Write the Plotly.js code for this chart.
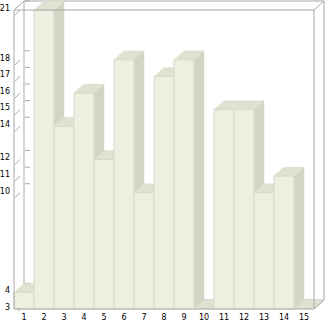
<!DOCTYPE html>
<html>
<head>
<meta charset="utf-8">
<script src="https://cdn.plot.ly/plotly-3.0.1.min.js"></script>
<style>html,body{margin:0;padding:0;background:#fff;}#chart{width:326px;height:321px;}</style>
</head>
<body>
<div id="chart"></div>
<script>
// ---- data ----
const categories = ["1","2","3","4","5","6","7","8","9","10","11","12","13","14","15"];
const values = [4, 21, 14, 16, 12, 18, 10, 17, 18, 3, 15, 15, 10, 11, 3];
const yTickVals = [3, 4, 10, 11, 12, 14, 15, 16, 17, 18, 21];
const yMin = 3;
const yMax = 21;

// ---- style / geometry (pixels -> data units) ----
const W = 326, H = 321;
const pxPerX = 20;                       // pixels per category
const pxPerY = 299 / (yMax - yMin);      // pixels per value unit
const dx = 10 / pxPerX;                  // depth offset in x units
const dy = 9 / pxPerY;                   // depth offset in y units
const margin = {l: 12, r: 0, t: 0, b: 10};
const plotW = W - margin.l - margin.r, plotH = H - margin.t - margin.b;
const x0 = 0.5 - 2 / pxPerX;
const xRange = [x0, x0 + plotW / pxPerX];
const yTop = yMax + 10 / pxPerY;
const yRange = [yTop - plotH / pxPerY, yTop];

const FRONT = '#efefe1', SIDE = '#d4d4c4', TOP = '#e1e1d1', EDGE = '#d9d9ca';
const FRAME = '#a8a8a8';

const traces = [];
function poly(xs, ys, fill, lineColor, lw) {
  traces.push({type: 'scatter', mode: 'lines', x: xs, y: ys, fill: 'toself',
    fillcolor: fill, line: {color: lineColor, width: lw}, hoverinfo: 'skip', showlegend: false});
}
function line(xs, ys, color) {
  traces.push({type: 'scatter', mode: 'lines', x: xs, y: ys,
    line: {color: color, width: 1}, hoverinfo: 'skip', showlegend: false});
}

const n = categories.length;
const L = 0.5, R = n + 0.5;

// back wall frame
line([L + dx, L + dx, R + dx, R + dx, L + dx], [yMin + dy, yMax + dy, yMax + dy, yMin + dy, yMin + dy], FRAME);
// back-wall and side-wall tick marks
const tx = [], ty = [], sx = [], sy = [];
yTickVals.forEach(v => {
  tx.push(L + dx + 0.05, L + dx + 0.3, null); ty.push(v + dy, v + dy, null);
  sx.push(L + 0.05, L + 0.3, null); sy.push(v - 0.3, v, null);
});
line(tx, ty, FRAME);
line(sx, sy, FRAME);

// bars, left to right: side, top, front
values.forEach((v, i) => {
  const c = i + 1, a = c - 0.5, b = c + 0.5;
  poly([b, b + dx, b + dx, b, b], [yMin, yMin + dy, v + dy, v, yMin], SIDE, SIDE, 0.5);
  poly([a, b, b + dx, a + dx, a], [v, v, v + dy, v + dy, v], TOP, TOP, 0.5);
  if (v > yMin) poly([a, b, b, a, a], [yMin, yMin, v, v, yMin], FRONT, EDGE, 1);
});

// front frame + corner diagonals
line([L, L, R, R, L], [yMin, yMax, yMax, yMin, yMin], FRAME);
line([L, L + dx, null, R, R + dx, null, R, R + dx], [yMax, yMax + dy, null, yMax, yMax + dy, null, yMin, yMin + dy], FRAME);

const tickFont = {family: 'DejaVu Sans', size: 8, color: '#000'};
const layout = {
  width: W, height: H, margin: margin,
  paper_bgcolor: '#fff', plot_bgcolor: '#fff',
  xaxis: {range: xRange, tickvals: categories.map((_, i) => i + 1), ticktext: categories,
    showgrid: false, zeroline: false, showline: false, ticks: '', tickfont: tickFont,
    fixedrange: true},
  yaxis: {range: yRange, tickvals: yTickVals, ticktext: yTickVals.map(String),
    showgrid: false, zeroline: false, showline: false, ticks: '', tickfont: tickFont,
    ticklabelshift: -2, ticklabelstandoff: 1, fixedrange: true},
  showlegend: false
};
Plotly.newPlot('chart', traces, layout, {displayModeBar: false, staticPlot: true});
</script>
</body>
</html>
